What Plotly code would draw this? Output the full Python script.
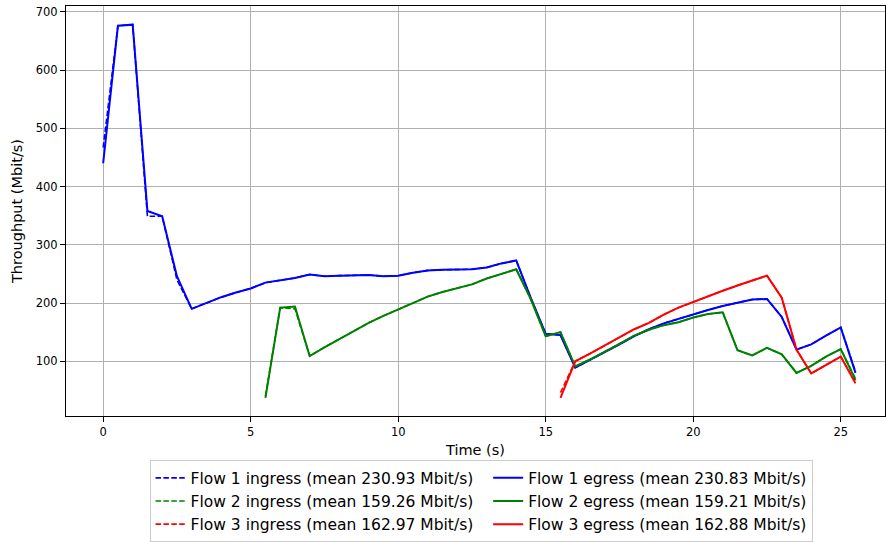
import plotly.graph_objects as go

# Flow 1 (0 .. 25.5 s, 0.5 s steps)
t1 = [0.0, 0.5, 1.0, 1.5, 2.0, 2.5, 3.0, 3.5, 4.0, 4.5, 5.0, 5.5, 6.0, 6.5, 7.0, 7.5, 8.0, 8.5,
      9.0, 9.5, 10.0, 10.5, 11.0, 11.5, 12.0, 12.5, 13.0, 13.5, 14.0, 14.5, 15.0, 15.5, 16.0,
      16.5, 17.0, 17.5, 18.0, 18.5, 19.0, 19.5, 20.0, 20.5, 21.0, 21.5, 22.0, 22.5, 23.0, 23.5,
      24.0, 24.5, 25.0, 25.5]
f1_egress = [440, 676, 678, 358, 349, 246, 190, 200, 210, 218, 225, 235, 239, 243, 249, 246, 247, 247,
             248, 246, 247, 252, 256, 257, 258, 258, 261, 268, 273, 208, 147, 145, 89,
             102, 116, 129, 143, 155, 165, 173, 180, 188, 195, 200, 206, 207, 176, 120,
             129, 144, 158, 80]
f1_ingress = [467, 676, 678, 349, 349, 240, 190, 200, 210, 218, 225, 235, 239, 243, 249, 246, 247, 247,
              248, 246, 247, 252, 256, 257, 258, 258, 261, 268, 273, 208, 147, 145, 89,
              102, 116, 129, 143, 155, 165, 173, 180, 188, 195, 200, 206, 207, 176, 120,
              129, 144, 158, 82]

# Flow 2 (5.5 .. 25.5 s)
t2 = [5.5, 6.0, 6.5, 7.0, 7.5, 8.0, 8.5, 9.0, 9.5, 10.0, 10.5, 11.0, 11.5, 12.0, 12.5, 13.0, 13.5,
      14.0, 14.5, 15.0, 15.5, 16.0, 16.5, 17.0, 17.5, 18.0, 18.5, 19.0, 19.5, 20.0, 20.5, 21.0,
      21.5, 22.0, 22.5, 23.0, 23.5, 24.0, 24.5, 25.0, 25.5]
f2_egress = [37, 192, 194, 109, 124, 138, 151, 166, 178, 189, 201, 211, 219, 225, 232, 242, 250,
             258, 206, 143, 150, 91, 103, 116, 130, 144, 154, 162, 167, 175, 181, 184,
             119, 110, 123, 112, 80, 92, 108, 121, 68]
f2_ingress = [40, 192, 190, 109, 124, 138, 151, 166, 178, 189, 201, 211, 219, 225, 232, 242, 250,
              258, 206, 143, 150, 91, 103, 116, 130, 144, 154, 162, 167, 175, 181, 184,
              119, 110, 123, 112, 80, 92, 108, 121, 70]

# Flow 3 (15.5 .. 25.5 s)
t3 = [15.5, 16.0, 16.5, 17.0, 17.5, 18.0, 18.5, 19.0, 19.5, 20.0, 20.5, 21.0, 21.5, 22.0, 22.5,
      23.0, 23.5, 24.0, 24.5, 25.0, 25.5]
f3_egress = [37, 100, 113, 127, 140, 155, 166, 180, 192, 202, 211, 221, 230, 239, 247,
             209, 120, 79, 94, 108, 62]
f3_ingress = [46, 100, 113, 127, 140, 155, 166, 180, 192, 202, 211, 221, 230, 239, 247,
              209, 120, 79, 94, 108, 64]

labels_ingress = ["Flow 1 ingress (mean 230.93 Mbit/s)",
                  "Flow 2 ingress (mean 159.26 Mbit/s)",
                  "Flow 3 ingress (mean 162.97 Mbit/s)"]
labels_egress = ["Flow 1 egress (mean 230.83 Mbit/s)",
                 "Flow 2 egress (mean 159.21 Mbit/s)",
                 "Flow 3 egress (mean 162.88 Mbit/s)"]
colors = ["#0000ff", "#008000", "#ff0000"]

xs = [t1, t2, t3]
ingress = [f1_ingress, f2_ingress, f3_ingress]
egress = [f1_egress, f2_egress, f3_egress]

fig = go.Figure()
for i in range(3):
    fig.add_trace(go.Scatter(x=xs[i], y=ingress[i], mode="lines",
                             name=labels_ingress[i] + "\u00a0\u00a0",
                             line=dict(color=colors[i], width=1.6, dash="5.5px,2.4px"),
                             legendrank=2 * i + 1))
for i in range(3):
    fig.add_trace(go.Scatter(x=xs[i], y=egress[i], mode="lines", name=labels_egress[i],
                             line=dict(color=colors[i], width=2),
                             legendrank=2 * i + 2))

font = "DejaVu Sans, sans-serif"
axis_common = dict(showgrid=True, gridcolor="#b0b0b0", gridwidth=1, showline=True,
                   linecolor="black", linewidth=1, mirror=True, ticks="outside",
                   ticklen=5, tickcolor="black", zeroline=False,
                   tickfont=dict(family=font, size=11.5, color="black"))
fig.update_xaxes(range=[-1.26, 26.5], tickvals=[0, 5, 10, 15, 20, 25],
                 title=dict(text="Time (s)", font=dict(family=font, size=14.5, color="black"),
                            standoff=7),
                 **axis_common)
fig.update_yaxes(range=[6, 710], tickvals=[100, 200, 300, 400, 500, 600, 700],
                 title=dict(text="Throughput (Mbit/s)", font=dict(family=font, size=14.5, color="black"),
                            standoff=9),
                 **axis_common)

fig.update_layout(
    width=886, height=542,
    margin=dict(l=66, r=1, t=6, b=126, autoexpand=False),
    plot_bgcolor="white", paper_bgcolor="white",
    font=dict(family=font, color="black"),
    legend=dict(orientation="h", x=0.102, y=-0.108, xanchor="left", yanchor="top",
                bordercolor="#cccccc", borderwidth=1, bgcolor="white",
                font=dict(family=font, size=15.5, color="black"),
                traceorder="normal", itemwidth=30),
)

fig.write_html("out.html", config={"displayModeBar": False},
               post_script="document.body.style.margin='0';document.body.style.overflow='hidden';")
